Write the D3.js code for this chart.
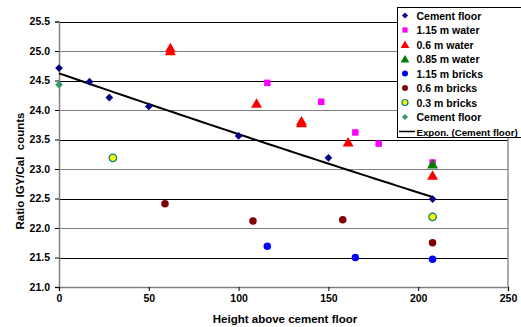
<!DOCTYPE html>
<html>
<head>
<meta charset="utf-8">
<script src="https://cdn.jsdelivr.net/npm/d3@7"></script>
<style>
  body { margin: 0; background: #fff; }
  text { font-family: "Liberation Sans", Arial, sans-serif; font-weight: bold; }
</style>
</head>
<body>
<svg id="chart" width="521" height="327"></svg>
<script>
'use strict';

// data
var cementFloor = [[0, 24.71], [17, 24.48], [28, 24.21], [50, 24.06], [100, 23.56], [150, 23.19], [208, 22.49]];
var water115 = [[116, 24.46], [146, 24.14], [165, 23.62], [178, 23.43], [208, 23.11]];
var water06 = [[62, 25.05], [62, 25.0], [110, 24.11], [135, 23.81], [135, 23.78], [161, 23.45], [208, 22.89]];
var water085 = [[208, 23.08]];
var bricks115 = [[116, 21.69], [165, 21.50], [208, 21.47]];
var bricks06 = [[59, 22.41], [108, 22.12], [158, 22.14], [208, 21.75]];
var bricks03 = [[30, 23.19], [208, 22.19]];
var cementFloor2 = [[0, 24.43]];

var xTicks = [0, 50, 100, 150, 200, 250];
var yTicks = [21.0, 21.5, 22.0, 22.5, 23.0, 23.5, 24.0, 24.5, 25.0, 25.5];

var series = [
  { name: "Cement floor", data: cementFloor, shape: "diamond", fill: "#000080", stroke: "none" },
  { name: "1.15 m water", data: water115, shape: "square", fill: "#ff00ff", stroke: "none" },
  { name: "0.6 m water", data: water06, shape: "triangle", fill: "#ff0000", stroke: "none" },
  { name: "0.85 m water", data: water085, shape: "triangle", fill: "#008000", stroke: "none" },
  { name: "1.15 m bricks", data: bricks115, shape: "circle", fill: "#0000ff", stroke: "none" },
  { name: "0.6 m bricks", data: bricks06, shape: "circle", fill: "#800000", stroke: "none" },
  { name: "0.3 m bricks", data: bricks03, shape: "circle", fill: "#ffff00", stroke: "#008080" },
  { name: "Cement floor", data: cementFloor2, shape: "diamond", fill: "#339966", stroke: "none" }
];

var svg = d3.select("#chart");

var x = d3.scaleLinear().domain([0, 250]).range([59, 508]);
var y = d3.scaleLinear().domain([21, 25.5]).range([287, 21.5]);

// gridlines
svg.append("g").selectAll("line")
  .data(yTicks.slice(1))
  .enter().append("line")
  .attr("x1", x(0)).attr("x2", x(250))
  .attr("y1", function(d) { return Math.round(y(d)) + 0.5; })
  .attr("y2", function(d) { return Math.round(y(d)) + 0.5; })
  .attr("stroke", function(d) { return (d % 1 === 0) ? "#808080" : "#000"; })
  .attr("stroke-width", 1.2);

// plot border right
svg.append("line").attr("x1", x(250)).attr("x2", x(250)).attr("y1", y(25.5)).attr("y2", y(21))
  .attr("stroke", "#808080").attr("stroke-width", 1.3);

// axes
var yAxis = d3.axisLeft(y).tickValues(yTicks).tickFormat(d3.format(".1f")).tickSizeOuter(0).tickSize(4).tickPadding(5);
var xAxis = d3.axisBottom(x).tickValues(xTicks).tickFormat(d3.format("d")).tickSizeOuter(0).tickSize(4).tickPadding(4);

var gy = svg.append("g").attr("transform", "translate(" + x(0) + ",0)").call(yAxis);
var gx = svg.append("g").attr("transform", "translate(0," + y(21) + ")").call(xAxis);
[gy, gx].forEach(function(g) {
  g.selectAll("path").attr("stroke", "#808080").attr("stroke-width", 1.5);
  g.selectAll("line").attr("stroke", "#000");
  g.selectAll("text").attr("fill", "#000").style("font-size", "10.5px")
    .style("font-family", "'Liberation Sans', Arial, sans-serif").style("font-weight", "bold");
});

// trend line: exponential fit on cement floor
var n = cementFloor.length;
var sx = d3.sum(cementFloor, function(d) { return d[0]; });
var sl = d3.sum(cementFloor, function(d) { return Math.log(d[1]); });
var sxx = d3.sum(cementFloor, function(d) { return d[0] * d[0]; });
var sxl = d3.sum(cementFloor, function(d) { return d[0] * Math.log(d[1]); });
var b = (n * sxl - sx * sl) / (n * sxx - sx * sx);
var a = Math.exp((sl - b * sx) / n);
var xs = d3.range(0, 208.01, 4);
var line = d3.line().x(function(d) { return x(d); }).y(function(d) { return y(a * Math.exp(b * d)); });
svg.append("path").datum(xs).attr("d", line).attr("fill", "none").attr("stroke", "#000").attr("stroke-width", 2);

function symbolFor(shape) {
  if (shape === "diamond") return d3.symbol().type(d3.symbolDiamond2).size(38)();
  if (shape === "square") return d3.symbol().type(d3.symbolSquare).size(42)();
  if (shape === "triangle") return d3.symbol().type(d3.symbolTriangle).size(52)();
  return d3.symbol().type(d3.symbolCircle).size(44)();
}

series.forEach(function(s) {
  svg.append("g").selectAll("path")
    .data(s.data)
    .enter().append("path")
    .attr("d", symbolFor(s.shape))
    .attr("transform", function(d) {
      var dy = s.shape === "triangle" ? 1 : 0;
      return "translate(" + x(d[0]) + "," + (y(d[1]) + dy) + ")";
    })
    .attr("fill", s.fill)
    .attr("stroke", s.stroke)
    .attr("stroke-width", 1.3);
});

// axis titles
svg.append("text").attr("x", 285).attr("y", 323).attr("text-anchor", "middle")
  .style("font-size", "11.5px").text("Height above cement floor");
svg.append("text").attr("transform", "translate(24,171) rotate(-90)").attr("text-anchor", "middle")
  .style("font-size", "11.5px").style("white-space", "pre").text("Ratio IGY/Cal  counts");

// legend
var legend = svg.append("g").attr("transform", "translate(397,7)");
legend.append("rect").attr("x", 0.5).attr("y", 0.5).attr("width", 140).attr("height", 130)
  .attr("fill", "#fff").attr("stroke", "#000").attr("stroke-width", 1);
var items = series.concat([{ name: "Expon. (Cement floor)", shape: "line" }]);
var rows = legend.selectAll("g.item").data(items).enter().append("g")
  .attr("class", "item")
  .attr("transform", function(d, i) { return "translate(0," + (8.5 + i * 14.5) + ")"; });
rows.each(function(d) {
  var g = d3.select(this);
  if (d.shape === "line") {
    g.append("line").attr("x1", 2).attr("x2", 18).attr("y1", 0).attr("y2", 0)
      .attr("stroke", "#000").attr("stroke-width", 1.5);
  } else {
    g.append("path").attr("d", symbolFor(d.shape))
      .attr("transform", "translate(8," + (d.shape === "triangle" ? 1 : 0) + ") scale(0.8)")
      .attr("fill", d.fill).attr("stroke", d.stroke).attr("stroke-width", 1.5);
  }
  g.append("text").attr("x", 19.5).attr("y", 4)
    .style("font-size", d.shape === "line" ? "9.7px" : "10.5px").text(d.name);
});
</script>
</body>
</html>
